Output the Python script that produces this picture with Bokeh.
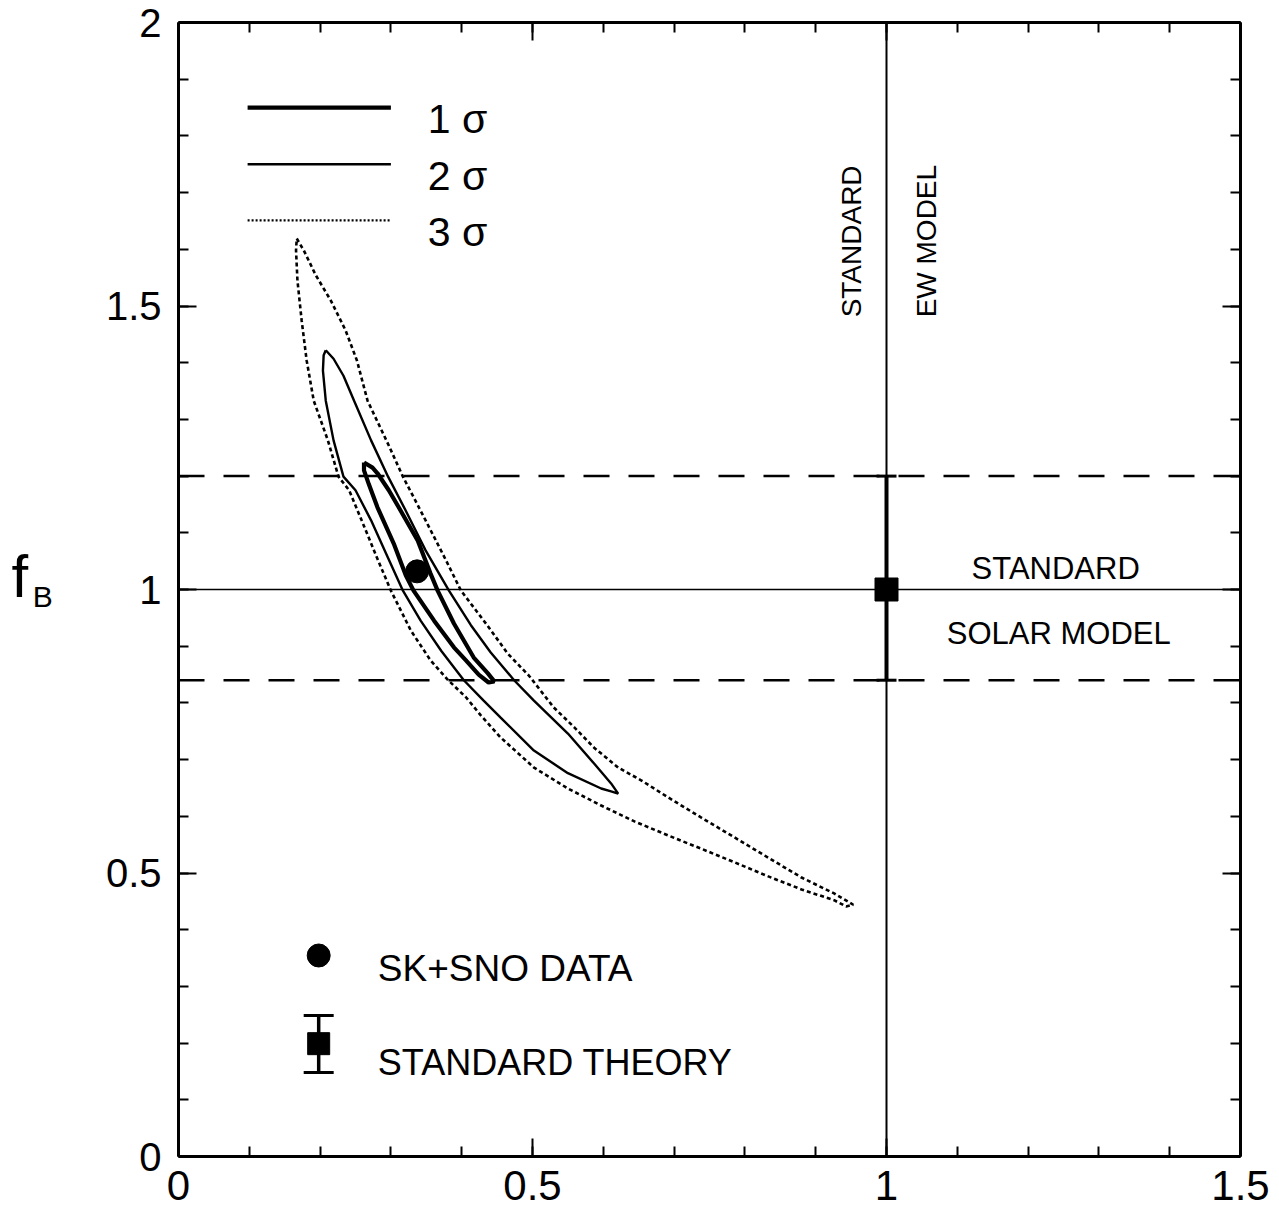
from bokeh.plotting import figure
from bokeh.models import Range1d, LinearAxis, SingleIntervalTicker, Span, Label
from bokeh.embed import file_html
from bokeh.resources import INLINE
import math

# ---------------- data ----------------
# 1 sigma contour
c1_x = [0.262, 0.274, 0.281, 0.297, 0.311, 0.338, 0.356, 0.366, 0.389, 0.417, 0.437, 0.446,
        0.438, 0.424, 0.406, 0.389, 0.361, 0.332, 0.321, 0.304, 0.281, 0.269, 0.262]
c1_y = [1.224, 1.215, 1.205, 1.175, 1.145, 1.086, 1.028, 0.998, 0.940, 0.880, 0.852, 0.838,
        0.836, 0.850, 0.875, 0.898, 0.945, 0.998, 1.025, 1.081, 1.145, 1.185, 1.210]
# 2 sigma contour
c2_x = [0.208, 0.219, 0.233, 0.248, 0.272, 0.296, 0.321, 0.349, 0.382, 0.413,
        0.441, 0.474, 0.502, 0.550, 0.587, 0.611, 0.621,
        0.611, 0.597, 0.550, 0.502, 0.455, 0.431, 0.403, 0.371, 0.342, 0.317,
        0.293, 0.272, 0.250, 0.233, 0.219, 0.208, 0.204, 0.205]
c2_y = [1.422, 1.407, 1.377, 1.333, 1.263, 1.199, 1.139, 1.069, 0.998, 0.937,
        0.889, 0.840, 0.804, 0.746, 0.693, 0.658, 0.640,
        0.644, 0.649, 0.676, 0.716, 0.774, 0.804, 0.840, 0.892, 0.945, 0.998,
        1.064, 1.122, 1.175, 1.199, 1.263, 1.333, 1.386, 1.413]
# 3 sigma contour
c3_x = [0.167, 0.177, 0.194, 0.215, 0.236, 0.252, 0.267, 0.297, 0.317, 0.349,
        0.378, 0.399, 0.436, 0.465, 0.495, 0.530, 0.559, 0.587, 0.621, 0.654,
        0.692, 0.738, 0.785, 0.833, 0.880, 0.926, 0.953,
        0.943, 0.926, 0.880, 0.833, 0.785, 0.738, 0.692, 0.644, 0.597, 0.550,
        0.502, 0.455, 0.427, 0.406, 0.381, 0.356, 0.328, 0.300, 0.279, 0.257,
        0.241, 0.226, 0.211, 0.191, 0.181, 0.174, 0.168, 0.166]
c3_y = [1.619, 1.598, 1.554, 1.510, 1.457, 1.404, 1.333, 1.254, 1.199, 1.122,
        1.051, 0.998, 0.937, 0.887, 0.848, 0.792, 0.757, 0.721, 0.686, 0.663,
        0.633, 0.598, 0.563, 0.527, 0.492, 0.464, 0.444,
        0.441, 0.452, 0.471, 0.494, 0.519, 0.543, 0.566, 0.591, 0.619, 0.649,
        0.686, 0.739, 0.778, 0.810, 0.840, 0.875, 0.928, 0.998, 1.060, 1.127,
        1.175, 1.199, 1.263, 1.333, 1.404, 1.474, 1.545, 1.598]

# SK+SNO best fit
sk_sno_x = [0.337]
sk_sno_y = [1.032]
# standard solar model prediction with error bar
ssm_x = [1.0]
ssm_y = [1.0]
ssm_lo = [0.84]
ssm_hi = [1.20]
# reference lines
ssm_band = [1.20, 0.84]
std_line = 1.0

x_ticks = [0, 0.5, 1, 1.5]
x_tick_labels = ["0", "0.5", "1", "1.5"]
y_ticks = [0, 0.5, 1, 1.5, 2]
y_tick_labels = ["0", "0.5", "1", "1.5", "2"]

legend_labels = ["1 σ", "2 σ", "3 σ"]
FONT = "Liberation Sans"

# ---------------- figure ----------------
p = figure(frame_width=1062, frame_height=1134, x_range=Range1d(0, 1.5), y_range=Range1d(0, 2),
           output_backend="svg", toolbar_location=None,
           x_axis_location=None, y_axis_location=None,
           min_border_left=178, min_border_right=37, min_border_top=22, min_border_bottom=53)
p.grid.grid_line_color = None
p.outline_line_color = None
p.background_fill_color = "white"
p.border_fill_color = "white"

bottom_axis = LinearAxis()
left_axis = LinearAxis()
top_axis = LinearAxis()
right_axis = LinearAxis()
p.add_layout(bottom_axis, "below")
p.add_layout(left_axis, "left")
p.add_layout(top_axis, "above")
p.add_layout(right_axis, "right")

for ax in [bottom_axis, left_axis, top_axis, right_axis]:
    ax.ticker = SingleIntervalTicker(interval=0.5, num_minor_ticks=5)
    ax.axis_line_width = 3
    ax.axis_line_color = "black"
    ax.major_tick_in = 18
    ax.major_tick_out = 0
    ax.minor_tick_in = 10
    ax.minor_tick_out = 0
    ax.major_tick_line_width = 2
    ax.minor_tick_line_width = 2
    ax.major_tick_line_color = "black"
    ax.minor_tick_line_color = "black"

for ax in [bottom_axis, top_axis, right_axis]:
    ax.major_label_text_font_size = "0px"
    ax.major_label_text_color = None
    ax.major_label_standoff = 0

left_axis.major_label_overrides = {t: l for t, l in zip(y_ticks, y_tick_labels)}
left_axis.major_label_text_font = FONT
left_axis.major_label_text_font_size = "40px"
left_axis.major_label_text_color = "black"
left_axis.major_label_standoff = 17

# x tick labels, placed in the bottom side panel (below the frame)
for t, lab in zip(x_ticks, x_tick_labels):
    p.add_layout(Label(x=t, y=-0.052, text=lab, text_font=FONT, text_font_size="42px",
                       text_align="center", text_baseline="middle", text_color="black"), "below")

# y axis label f_B (placed in the left side panel so it is not clipped)
p.add_layout(Label(x=-0.236, y=1.023, text="f", text_font=FONT, text_font_size="60px",
                   text_baseline="middle", text_color="black"), "left")
p.add_layout(Label(x=-0.206, y=0.987, text="B", text_font=FONT, text_font_size="30px",
                   text_baseline="middle", text_color="black"), "left")

# reference lines
for loc in ssm_band:
    p.add_layout(Span(location=loc, dimension="width", line_color="black",
                      line_width=2.5, line_dash="26 19"))
p.add_layout(Span(location=std_line, dimension="width", line_color="black", line_width=1.5))
p.add_layout(Span(location=std_line, dimension="height", line_color="black", line_width=2))

# contours
p.line(c1_x + c1_x[:1], c1_y + c1_y[:1], line_color="black", line_width=4.2)
p.line(c2_x + c2_x[:1], c2_y + c2_y[:1], line_color="black", line_width=2.4)
p.line(c3_x + c3_x[:1], c3_y + c3_y[:1], line_color="black", line_width=2.6, line_dash="4 3")

# data point
p.scatter(sk_sno_x, sk_sno_y, marker="circle", size=23, color="black")
# standard theory with error bar
p.segment(x0=ssm_x, y0=ssm_lo, x1=ssm_x, y1=ssm_hi, line_color="black", line_width=4)
p.scatter(ssm_x, ssm_lo, marker="dash", size=20, line_color="black", line_width=3)
p.scatter(ssm_x, ssm_hi, marker="dash", size=20, line_color="black", line_width=3)
p.scatter(ssm_x, ssm_y, marker="square", size=23, color="black")

# ---- legend (top left) ----
leg_y = [1.850, 1.750, 1.651]
leg_w = [4.2, 2.4, 2.4]
leg_dash = ["solid", "solid", "2 2"]
for yy, w, d, lab in zip(leg_y, leg_w, leg_dash, legend_labels):
    p.line([0.0976, 0.300], [yy, yy], line_color="black", line_width=w, line_dash=d)
    p.add_layout(Label(x=0.352, y=yy - 0.021, text=lab, text_font=FONT,
                       text_font_size="41px", text_baseline="alphabetic", text_color="black"))

# ---- legend (bottom left) ----
p.scatter([0.198], [0.3545], marker="circle", size=23, color="black")
p.add_layout(Label(x=0.2815, y=0.3316, text="SK+SNO DATA", text_font=FONT,
                   text_font_size="37px", text_baseline="alphabetic", text_color="black"))
p.segment(x0=[0.198], y0=[0.1482], x1=[0.198], y1=[0.2487], line_color="black", line_width=3.5)
p.scatter([0.198, 0.198], [0.1482, 0.2487], marker="dash", size=30, line_color="black", line_width=3)
p.scatter([0.198], [0.199], marker="square", size=22, color="black")
p.add_layout(Label(x=0.2815, y=0.1658, text="STANDARD THEORY", text_font=FONT,
                   text_font_size="36px", text_baseline="alphabetic", text_color="black"))

# ---- annotations right ----
p.add_layout(Label(x=1.239, y=1.037, text="STANDARD", text_font=FONT, text_font_size="31px",
                   text_align="center", text_baseline="alphabetic", text_color="black"))
p.add_layout(Label(x=1.2433, y=0.922, text="SOLAR MODEL", text_font=FONT, text_font_size="31px",
                   text_align="center", text_baseline="alphabetic", text_color="black"))
p.add_layout(Label(x=0.9505, y=1.480, text="STANDARD", text_font=FONT, text_font_size="28px",
                   angle=math.pi / 2, text_align="left", text_baseline="middle", text_color="black"))
p.add_layout(Label(x=1.0566, y=1.480, text="EW MODEL", text_font=FONT, text_font_size="28px",
                   angle=math.pi / 2, text_align="left", text_baseline="middle", text_color="black"))

open("out.html", "w").write(file_html(p, INLINE))
